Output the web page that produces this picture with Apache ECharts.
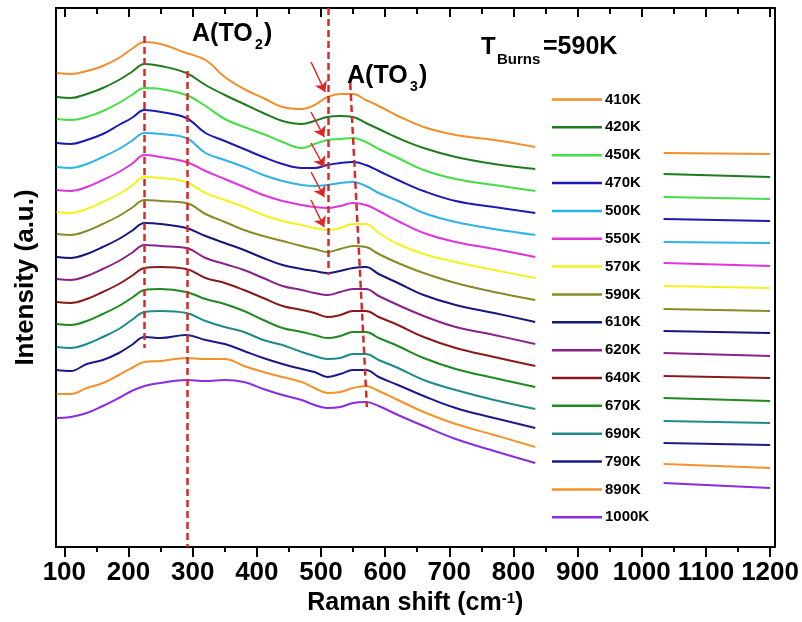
<!DOCTYPE html>
<html>
<head>
<meta charset="utf-8">
<script src="https://cdn.jsdelivr.net/npm/echarts@6/dist/echarts.min.js"></script>
<style>
html,body{margin:0;padding:0;background:#fff;}
#chart{width:802px;height:622px;}
</style>
</head>
<body>
<div id="chart"></div>
<script>
// Raman shift sample positions (cm-1); null gap = region hidden by the legend
const ramanShift = [88, 110, 135, 160, 185, 205, 225, 250, 290, 320, 350, 380, 410, 440, 470, 490, 510, 530, 550, 570, 590, 620, 660, 710, 770, 834, 934, 1034, 1200];

const temps = ['410K','420K','450K','470K','500K','550K','570K','590K','610K','620K','640K','670K','690K','790K','890K','1000K'];

// Intensities (a.u., vertically offset spectra)
const s410  = [477, 476, 479, 484, 492, 501, 508, 506, 497, 490, 473, 461, 452, 443, 441, 445, 453, 456, 456, 450, 444, 434, 423, 415, 410, 403, null, 397, 396];
const s420  = [453, 452, 456, 462, 470, 478, 486, 484, 477, 465, 455, 446, 437, 429, 426, 429, 433, 434, 433, 427, 421, 412, 402, 393, 386, 381, null, 376, 373];
const s450  = [431, 430, 433, 439, 447, 455, 462, 461, 455, 444, 431, 423, 416, 408, 402, 406, 410, 411, 412, 408, 401, 392, 380, 371, 365, 359, null, 353, 351];
const s470  = [407, 406, 410, 416, 425, 432, 440, 438, 432, 417, 409, 401, 393, 386, 382, 382, 385, 387, 388, 385, 379, 370, 359, 349, 343, 337, null, 331, 329];
const s500  = [383, 382, 386, 393, 401, 409, 417, 416, 412, 397, 390, 383, 375, 369, 365, 364, 365, 367, 368, 364, 357, 349, 337, 328, 321, 315, null, 308, 307];
const s550  = [360, 359, 363, 370, 378, 386, 395, 393, 388, 379, 371, 363, 355, 349, 345, 343, 342, 344, 347, 345, 339, 329, 317, 308, 301, 293, null, 287, 284];
const s570  = [338, 337, 341, 348, 356, 364, 373, 372, 368, 357, 350, 343, 335, 329, 325, 322, 320, 322, 326, 326, 317, 306, 296, 288, 280, 272, null, 264, 262];
const s590  = [316, 315, 319, 326, 334, 342, 350, 349, 347, 336, 328, 320, 314, 309, 304, 301, 298, 301, 304, 303, 296, 287, 277, 267, 258, 250, null, 241, 239];
const s610  = [293, 292, 296, 303, 311, 319, 327, 326, 322, 314, 307, 300, 292, 285, 281, 279, 277, 279, 282, 283, 276, 267, 255, 245, 237, 228, null, 219, 217];
const s620  = [271, 270, 274, 281, 289, 297, 305, 304, 302, 292, 286, 280, 272, 264, 260, 257, 255, 258, 261, 261, 254, 245, 234, 223, 215, 206, null, 197, 194];
const s640  = [248, 247, 251, 258, 266, 274, 282, 283, 281, 272, 267, 260, 252, 244, 240, 237, 233, 235, 239, 239, 233, 225, 213, 202, 193, 184, null, 174, 172];
const s670  = [226, 225, 229, 236, 244, 252, 260, 261, 258, 251, 246, 239, 230, 222, 218, 215, 212, 214, 218, 218, 212, 204, 192, 181, 172, 163, null, 152, 149];
const s690  = [203, 202, 206, 213, 221, 230, 238, 239, 237, 229, 223, 218, 210, 205, 198, 194, 191, 192, 196, 196, 190, 182, 170, 160, 150, 141, null, 129, 127];
const s790  = [180, 179, 186, 190, 197, 205, 213, 212, 215, 210, 206, 199, 192, 186, 181, 178, 173, 176, 180, 180, 173, 165, 154, 142, 132, 122, null, 107, 105];
const s890  = [156, 156, 162, 167, 175, 182, 188, 189, 192, 191, 191, 184, 178, 173, 168, 162, 157, 158, 162, 164, 159, 150, 138, 126, 115, 103, null, 86, 82];
const s1000 = [132, 133, 137, 144, 152, 159, 164, 167, 170, 169, 170, 168, 161, 155, 150, 145, 142, 143, 147, 148, 144, 135, 124, 111, 99, 87, null, 67, 62];

const seriesValues = [s410, s420, s450, s470, s500, s550, s570, s590, s610, s620, s640, s670, s690, s790, s890, s1000];

const tickValues = [100, 200, 300, 400, 500, 600, 700, 800, 900, 1000, 1100, 1200];
const minorTickValues = [150, 250, 350, 450, 550, 650, 750, 850, 950, 1050, 1150];

// Annotation guide lines (cm-1, intensity)
const guideLines = [
  [[225, 514], [225, 202]],
  [[291, 479], [291, 3]],
  [[512, 542], [512, 275]],
  [[545.6, 467], [571.6, 143]]
];
const arrowLines = [
  [[484.5, 488], [506.5, 458]],
  [[484.5, 438], [505, 413]],
  [[484.5, 407], [505, 383]],
  [[484.5, 378], [505, 353]],
  [[484.5, 350], [505, 323]]
];

const colors = ['#F28E2B','#1E7B1E','#45DD45','#1A1AB5','#2DB3E6','#E035DD','#F2F21E','#8A8A26','#16167F','#8A228A','#8A1A1A','#1F8A1F','#1F8A8A','#1A1A8A','#F5922A','#8B2BE2'];

const FONT = '"Liberation Sans", Arial, sans-serif';

const chart = echarts.init(document.getElementById('chart'), null, {renderer: 'canvas'});

const series = temps.map((name, i) => ({
  name: name,
  type: 'line',
  xAxisIndex: 0,
  yAxisIndex: 0,
  symbol: 'none',
  smooth: 0.4,
  connectNulls: false,
  lineStyle: {color: colors[i], width: 2},
  itemStyle: {color: colors[i]},
  data: ramanShift.map((x, k) => [x, seriesValues[i][k]]),
  z: 2
}));

series.push({
  name: 'guides',
  type: 'line',
  data: [],
  xAxisIndex: 0,
  yAxisIndex: 0,
  markLine: {
    silent: true,
    symbol: ['none', 'none'],
    label: {show: false},
    lineStyle: {color: '#D42A2A', width: 2.5, type: [7, 4]},
    data: guideLines.map(l => [{coord: l[0]}, {coord: l[1]}])
  },
  z: 3
});
series.push({
  name: 'arrows',
  type: 'line',
  data: [],
  xAxisIndex: 0,
  yAxisIndex: 0,
  markLine: {
    silent: true,
    symbol: ['none', 'arrow'],
    symbolSize: 10,
    label: {show: false},
    lineStyle: {color: '#E02424', width: 1.5, type: 'solid'},
    itemStyle: {color: '#E02424'},
    data: arrowLines.map(l => [{coord: l[0]}, {coord: l[1]}])
  },
  z: 4
});

const xMin = 87, xMax = 1207;
const axisLineStyle = {color: '#000', width: 2};

const option = {
  animation: false,
  backgroundColor: '#fff',
  grid: {left: 56, right: 26, top: 8, bottom: 75, containLabel: false},
  legend: {
    data: temps,
    orient: 'vertical',
    left: 552,
    top: 92,
    padding: 0,
    icon: 'rect',
    itemWidth: 50,
    itemHeight: 2.5,
    itemGap: 12.85,
    selectedMode: false,
    textStyle: {fontSize: 15, fontWeight: 'bold', color: '#000', fontFamily: FONT, lineHeight: 14, padding: [0, 0, 0, -2]}
  },
  xAxis: [
    {
      type: 'value', min: xMin, max: xMax, position: 'bottom',
      axisLine: {show: true, onZero: false, lineStyle: axisLineStyle},
      axisTick: {show: true, customValues: tickValues, length: 10, lineStyle: {color: '#000', width: 2}},
      axisLabel: {show: true, customValues: tickValues, formatter: v => String(v), hideOverlap: false,
        showMinLabel: true, showMaxLabel: true,
        fontSize: 26, fontWeight: 'bold', color: '#000', fontFamily: FONT, margin: 13},
      splitLine: {show: false},
      name: 'Raman shift (cm{sup|-1})',
      nameLocation: 'middle',
      nameGap: 44,
      nameTextStyle: {
        fontSize: 25, fontWeight: 'bold', color: '#000', fontFamily: FONT,
        rich: {sup: {fontSize: 15, fontWeight: 'bold', color: '#000', fontFamily: FONT, verticalAlign: 'top', lineHeight: 18}}
      }
    },
    {
      type: 'value', min: xMin, max: xMax, position: 'bottom',
      axisLine: {show: false, onZero: false},
      axisTick: {show: true, customValues: minorTickValues, length: 5, lineStyle: {color: '#000', width: 2}},
      axisLabel: {show: false},
      splitLine: {show: false}
    },
    {
      type: 'value', min: xMin, max: xMax, position: 'top',
      axisLine: {show: true, onZero: false, lineStyle: axisLineStyle},
      axisTick: {show: true, inside: true, customValues: tickValues, length: 9, lineStyle: {color: '#000', width: 2}},
      axisLabel: {show: false},
      splitLine: {show: false}
    },
    {
      type: 'value', min: xMin, max: xMax, position: 'top',
      axisLine: {show: false, onZero: false},
      axisTick: {show: true, inside: true, customValues: minorTickValues, length: 6, lineStyle: {color: '#000', width: 2}},
      axisLabel: {show: false},
      splitLine: {show: false}
    }
  ],
  yAxis: [
    {
      type: 'value', min: 3, max: 542, position: 'left',
      axisLine: {show: true, onZero: false, lineStyle: axisLineStyle},
      axisTick: {show: false}, axisLabel: {show: false}, splitLine: {show: false},
      name: 'Intensity (a.u.)', nameLocation: 'middle', nameGap: 17,
      nameTextStyle: {fontSize: 26, fontWeight: 'bold', color: '#000', fontFamily: FONT}
    },
    {
      type: 'value', min: 3, max: 542, position: 'right',
      axisLine: {show: true, onZero: false, lineStyle: axisLineStyle},
      axisTick: {show: false}, axisLabel: {show: false}, splitLine: {show: false}
    }
  ],
  graphic: [
    {type: 'text', x: 192, y: 34, style: {text: 'A(TO', font: 'bold 25px ' + FONT, fill: '#000', verticalAlign: 'middle'}},
    {type: 'text', x: 255, y: 45, style: {text: '2', font: 'bold 14px ' + FONT, fill: '#000', verticalAlign: 'middle'}},
    {type: 'text', x: 264, y: 34, style: {text: ')', font: 'bold 25px ' + FONT, fill: '#000', verticalAlign: 'middle'}},
    {type: 'text', x: 347, y: 76, style: {text: 'A(TO', font: 'bold 25px ' + FONT, fill: '#000', verticalAlign: 'middle'}},
    {type: 'text', x: 410, y: 87, style: {text: '3', font: 'bold 14px ' + FONT, fill: '#000', verticalAlign: 'middle'}},
    {type: 'text', x: 419, y: 76, style: {text: ')', font: 'bold 25px ' + FONT, fill: '#000', verticalAlign: 'middle'}},
    {type: 'text', x: 481, y: 47, style: {text: 'T', font: 'bold 24px ' + FONT, fill: '#000', verticalAlign: 'middle'}},
    {type: 'text', x: 497, y: 60, style: {text: 'Burns', font: 'bold 15px ' + FONT, fill: '#000', verticalAlign: 'middle'}},
    {type: 'text', x: 543, y: 47, style: {text: '=590K', font: 'bold 25px ' + FONT, fill: '#000', verticalAlign: 'middle'}}
  ],
  series: series
};

chart.setOption(option);
</script>
</body>
</html>
